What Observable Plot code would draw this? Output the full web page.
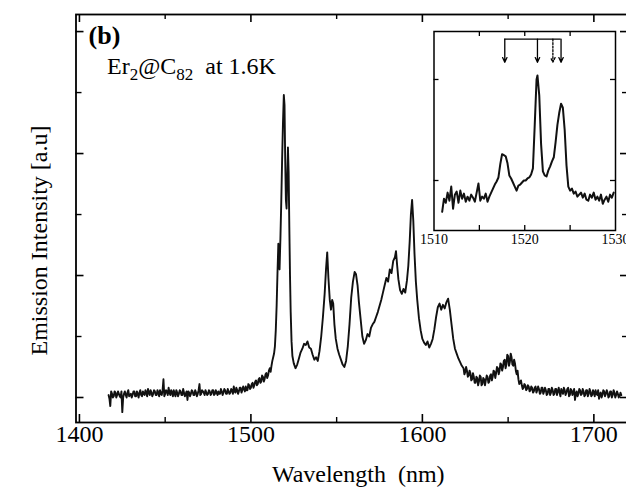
<!DOCTYPE html>
<html><head><meta charset="utf-8">
<script src="https://cdn.jsdelivr.net/npm/d3@7"></script>
<script src="https://cdn.jsdelivr.net/npm/@observablehq/plot@0.6"></script>
<style>
html,body{margin:0;padding:0;background:#fff;}
#wrap{position:relative;width:626px;height:489px;overflow:hidden;background:#fff;}
#main{position:absolute;left:0;top:0;}
#inset{position:absolute;left:420px;top:20px;}
svg text{font-family:'Liberation Serif','Times New Roman',serif;}
</style></head><body>
<div id="wrap"><div id="main"></div><div id="inset"></div></div>
<script>
// ---- main spectrum: [wavelength nm, emission intensity a.u.] ----
const mainSpectrum = [
[1417,0.02],[1418,-0.07],[1419,0.03],[1420,0.01],[1421,0.04],[1422,0.02],[1423,0.03],[1424,0.00],[1425,-0.12],[1426,0.03],
[1427,0.02],[1428,0.04],[1429,0.01],[1430,0.03],[1431,0.02],[1432,0.05],[1433,0.01],[1434,0.03],[1435,0.04],[1436,0.02],
[1437,0.05],[1438,0.02],[1439,0.04],[1440,0.07],[1441,0.02],[1442,0.04],[1443,0.03],[1444,0.05],[1445,0.02],[1446,0.04],
[1447,0.06],[1448,0.02],[1449,0.15],[1450,0.03],[1451,0.05],[1452,0.08],[1453,0.02],[1454,0.04],[1455,0.06],[1456,0.01],
[1457,0.04],[1458,0.03],[1459,0.05],[1460,0.02],[1461,0.04],[1462,0.03],[1463,-0.02],[1464,0.04],[1465,0.03],[1466,0.05],
[1467,0.02],[1468,0.04],[1469,0.03],[1470,0.11],[1471,0.03],[1472,0.05],[1473,0.02],[1474,0.04],[1475,0.03],[1476,0.05],
[1477,0.03],[1478,0.06],[1479,0.03],[1480,0.04],[1481,0.05],[1482,0.03],[1483,0.05],[1484,0.04],[1485,0.06],[1486,0.03],
[1487,0.05],[1488,0.04],[1489,0.06],[1490,0.09],[1491,0.04],[1492,0.06],[1493,0.05],[1494,0.08],[1495,0.06],
[1496,0.07],[1497,0.09],[1498,0.06],[1499,0.10],[1500,0.08],[1501,0.12],[1502,0.10],[1503,0.14],[1504,0.11],[1505,0.16],
[1506,0.13],[1507,0.17],[1508,0.15],[1509,0.20],[1510,0.18],[1511,0.24],[1512,0.26],[1513,0.33],[1514,0.42],[1514.5,0.55],
[1515,0.75],[1515.5,1.02],[1516,1.26],[1516.3,1.08],[1516.7,1.05],[1517.2,1.30],[1517.7,1.60],[1518.2,1.95],[1518.7,2.25],[1519.2,2.48],
[1519.6,2.40],[1520,1.95],[1520.4,1.62],[1520.8,1.55],[1521.2,1.80],[1521.6,2.05],[1522,1.85],[1522.4,1.40],[1522.8,1.00],[1523.2,0.70],
[1523.7,0.46],[1524.2,0.34],[1525,0.28],[1526,0.24],[1527,0.27],[1528,0.32],[1529,0.37],[1530,0.40],[1531,0.44],[1532,0.43],
[1533,0.46],[1534,0.41],[1535,0.40],[1536,0.35],[1537,0.31],[1538,0.33],[1539,0.30],[1540,0.38],[1541,0.50],[1542,0.66],
[1543,0.85],[1543.8,1.05],[1544.5,1.19],[1545.2,0.98],[1546,0.80],[1546.7,0.72],[1547.4,0.80],[1548,0.77],[1548.7,0.60],[1549.5,0.48],
[1550.5,0.40],[1551.5,0.35],[1552.5,0.31],[1553.5,0.27],[1554.5,0.25],[1555.5,0.30],[1556.5,0.42],[1557.5,0.60],[1558.5,0.82],[1559.5,0.95],
[1560.5,1.03],[1561.3,1.01],[1562.2,0.92],[1563,0.78],[1564,0.64],[1565,0.50],[1566,0.44],[1567,0.47],[1568,0.52],[1569,0.50],
[1570,0.57],[1571,0.60],[1572,0.62],[1573,0.66],[1574,0.70],[1575,0.75],[1576,0.80],[1577,0.86],[1578,0.92],[1579,0.98],
[1580,0.95],[1581,1.05],[1582,1.02],[1583,1.12],[1584,1.15],[1584.6,1.20],[1585.3,1.08],[1586,0.97],[1587,0.88],[1588,0.85],
[1589,0.89],[1590,0.86],[1591,0.96],[1591.8,1.08],[1592.6,1.28],[1593.3,1.50],[1594,1.62],[1594.7,1.45],[1595.4,1.18],[1596.2,0.95],
[1597,0.80],[1598,0.65],[1599,0.55],[1600,0.48],[1601,0.45],[1602,0.43],[1603,0.46],[1604,0.41],[1605,0.44],[1606,0.48],
[1607,0.56],[1608,0.66],[1609,0.74],[1610,0.77],[1611,0.72],[1612,0.76],[1613,0.73],[1614,0.78],[1615,0.81],[1616,0.72],
[1617,0.60],[1618,0.48],[1619,0.40],[1620,0.36],[1621,0.32],[1622,0.29],[1623,0.26],[1624,0.24],[1625,0.21],[1626,0.22],
[1627,0.18],[1628,0.20],[1629,0.15],[1630,0.17],[1631,0.12],[1632,0.16],[1633,0.13],[1634,0.17],[1635,0.11],[1636,0.15],
[1637,0.14],[1638,0.17],[1639,0.13],[1640,0.19],[1641,0.17],[1642,0.21],[1643,0.20],[1644,0.24],[1645,0.22],[1646,0.27],
[1647,0.25],[1648,0.31],[1649,0.27],[1650,0.34],[1651,0.29],[1652,0.33],[1653,0.26],[1654,0.28],[1655,0.19],[1656,0.15],
[1657,0.12],[1658,0.10],[1659,0.08],[1660,0.10],[1661,0.07],[1662,0.09],[1663,0.06],[1664,0.08],[1665,0.05],[1666,0.09],
[1667,0.06],[1668,0.07],[1669,0.04],[1670,0.08],[1671,0.05],[1672,0.06],[1673,0.03],[1674,0.07],[1675,0.04],[1676,0.06],
[1677,0.03],[1678,0.07],[1679,0.05],[1680,0.04],[1681,0.07],[1682,0.03],[1683,0.06],[1684,0.04],[1685,0.08],[1686,0.02],
[1687,0.06],[1688,0.04],[1689,-0.02],[1690,0.05],[1691,0.03],[1692,0.06],[1693,0.03],[1694,0.05],[1695,0.02],[1696,0.06],
[1697,0.03],[1698,0.05],[1699,0.02],[1700,0.04],[1701,0.06],[1702,0.02],[1703,-0.01],[1704,0.04],[1705,0.02],[1706,0.05],
[1707,0.03],[1708,0.04],[1709,0.01],[1710,0.05],[1711,0.02],[1712,0.04],[1713,0.02],[1714,0.03],[1715,0.01],[1716,0.02]
];
// extra readings between the points above (noise of the baseline and tails)
const mainSpectrumHalfSteps = [
[1417.5,-0.01],[1418.5,0.05],[1419.5,0.00],[1420.5,0.05],[1421.5,0.00],[1422.5,0.05],[1423.5,0.01],[1424.5,0.05],[1425.5,0.00],[1426.5,0.05],
[1427.5,0.00],[1428.5,0.06],[1429.5,0.02],[1430.5,0.00],[1431.5,0.05],[1432.5,0.01],[1433.5,0.05],[1434.5,0.00],[1435.5,0.06],[1436.5,0.01],
[1437.5,0.03],[1438.5,0.06],[1439.5,0.01],[1440.5,0.04],[1441.5,0.06],[1442.5,0.01],[1443.5,0.06],[1444.5,0.02],[1445.5,0.06],[1446.5,0.01],
[1447.5,0.03],[1448.5,0.06],[1449.5,0.01],[1450.5,0.06],[1451.5,0.02],[1452.5,0.04],[1453.5,0.06],[1454.5,0.01],[1455.5,0.03],[1456.5,0.06],
[1457.5,0.01],[1458.5,0.06],[1459.5,0.02],[1460.5,0.07],[1461.5,0.01],[1462.5,0.05],[1463.5,0.05],[1464.5,0.01],[1465.5,0.06],[1466.5,0.02],
[1467.5,0.06],[1468.5,0.01],[1469.5,0.06],[1470.5,0.02],[1471.5,0.06],[1472.5,0.04],[1473.5,0.06],[1474.5,0.02],[1475.5,0.06],[1476.5,0.02],
[1477.5,0.06],[1478.5,0.02],[1479.5,0.06],[1480.5,0.02],[1481.5,0.03],[1482.5,0.07],[1483.5,0.02],[1484.5,0.07],[1485.5,0.03],[1486.5,0.07],
[1487.5,0.03],[1488.5,0.07],[1489.5,0.03],[1490.5,0.05],[1491.5,0.08],[1492.5,0.03],[1493.5,0.08],[1494.5,0.04],[1495.5,0.09],[1496.5,0.05],
[1497.5,0.06],[1498.5,0.11],[1499.5,0.07],[1500.5,0.11],[1501.5,0.08],[1502.5,0.13],[1503.5,0.10],[1504.5,0.15],[1505.5,0.12],[1506.5,0.18],
[1507.5,0.13],[1508.5,0.19],[1509.5,0.16],[1510.5,0.22],[1511.5,0.21],[1512.5,0.30],[1513.5,0.36],
[1624.5,0.19],[1625.5,0.25],[1626.5,0.17],[1627.5,0.22],[1628.5,0.14],[1629.5,0.20],[1630.5,0.12],[1631.5,0.17],[1632.5,0.10],[1633.5,0.18],
[1634.5,0.10],[1635.5,0.16],[1636.5,0.10],[1637.5,0.18],[1638.5,0.12],[1639.5,0.18],[1640.5,0.14],[1641.5,0.22],[1642.5,0.16],[1643.5,0.25],
[1644.5,0.19],[1645.5,0.28],[1646.5,0.22],[1647.5,0.30],[1648.5,0.24],[1649.5,0.35],[1650.5,0.26],[1651.5,0.36],[1652.5,0.27],[1653.5,0.31],
[1654.5,0.22],[1655.5,0.22],[1656.5,0.11],[1657.5,0.14],[1658.5,0.07],[1659.5,0.11],[1660.5,0.06],[1661.5,0.10],[1662.5,0.05],[1663.5,0.09],
[1664.5,0.04],[1665.5,0.08],[1666.5,0.04],[1667.5,0.09],[1668.5,0.03],[1669.5,0.08],[1670.5,0.03],[1671.5,0.08],[1672.5,0.02],[1673.5,0.07],
[1674.5,0.02],[1675.5,0.08],[1676.5,0.02],[1677.5,0.07],[1678.5,0.02],[1679.5,0.08],[1680.5,0.01],[1681.5,0.05],[1682.5,0.08],[1683.5,0.02],
[1684.5,0.07],[1685.5,0.01],[1686.5,0.07],[1687.5,0.02],[1688.5,0.07],[1689.5,0.03],[1690.5,0.01],[1691.5,0.07],[1692.5,0.02],[1693.5,0.07],
[1694.5,0.01],[1695.5,0.06],[1696.5,0.01],[1697.5,0.07],[1698.5,0.01],[1699.5,0.06],[1700.5,0.01],[1701.5,0.03],[1702.5,0.06],[1703.5,0.03],
[1704.5,0.00],[1705.5,0.06],[1706.5,0.01],[1707.5,0.06],[1708.5,0.00],[1709.5,0.05],[1710.5,0.00],[1711.5,0.06],[1712.5,0.00],[1713.5,0.05],
[1714.5,0.00],[1715.5,0.04]
];

// ---- inset spectrum (1510-1530 nm) ----
const insetSpectrum = [
[1510.9,0.69],[1511.1,0.82],[1511.3,0.78],[1511.5,0.88],[1511.7,0.80],[1511.9,0.94],[1512.1,0.72],[1512.3,0.86],[1512.5,0.89],[1512.7,0.78],
[1512.9,0.90],[1513.1,0.82],[1513.3,0.87],[1513.5,0.79],[1513.7,0.84],[1513.9,0.80],[1514.1,0.86],[1514.3,0.83],[1514.5,0.79],[1514.7,0.88],
[1514.9,0.97],[1515.1,0.80],[1515.3,0.84],[1515.5,0.82],[1515.7,0.87],[1515.9,0.79],[1516.1,0.84],[1516.3,0.88],[1516.5,0.92],[1516.7,0.96],
[1516.9,0.99],[1517.1,1.03],[1517.3,1.16],[1517.5,1.26],[1517.7,1.25],[1517.9,1.24],[1518.1,1.17],[1518.3,1.05],[1518.5,1.02],[1518.7,0.98],
[1518.9,0.94],[1519.1,0.90],[1519.3,0.95],[1519.5,0.96],[1519.7,0.98],[1519.9,1.00],[1520.1,1.00],[1520.3,1.02],[1520.5,1.03],[1520.7,1.06],
[1520.9,1.12],[1521.1,1.55],[1521.3,2.00],[1521.4,2.04],[1521.6,1.84],[1521.8,1.36],[1522.0,1.09],[1522.2,1.05],[1522.4,1.04],[1522.6,1.10],
[1522.8,1.14],[1523.0,1.19],[1523.2,1.23],[1523.4,1.38],[1523.6,1.55],[1523.8,1.67],[1524.0,1.76],[1524.2,1.72],[1524.4,1.50],[1524.6,1.15],
[1524.8,0.94],[1525.0,0.90],[1525.2,0.92],[1525.4,0.87],[1525.6,0.89],[1525.8,0.84],[1526.0,0.86],[1526.2,0.88],[1526.4,0.83],[1526.6,0.87],
[1526.8,0.81],[1527.0,0.80],[1527.2,0.86],[1527.4,0.83],[1527.6,0.88],[1527.8,0.81],[1528.0,0.84],[1528.2,0.80],[1528.4,0.86],[1528.6,0.77],
[1528.8,0.81],[1529.0,0.84],[1529.2,0.79],[1529.4,0.86],[1529.6,0.83],[1529.8,0.88]
];

// ---- ticks / labels ----
const xTickLabels = [1400, 1500, 1600, 1700];
const xMinorTicks = [1450, 1550, 1650];
const yMajorTicks = [0, 1, 2, 3];
const yMinorTicks = [0.5, 1.5, 2.5];
const insetTickLabels = [1510, 1520, 1530];
const insetXTicks = [1515, 1520, 1525];
const insetYTicks = [1, 2];
// inset arrows (transition markers)
const arrowWavelengths = [1517.8, 1521.4, 1523.1, 1524.0];
const arrowDotted = [false, false, true, false];
const arrowTop = 2.40, arrowTip = 2.17;

const xLabel = "Wavelength  (nm)";
const yLabel = "Emission Intensity [a.u]";
const panelLabel = "(b)";
const sampleLabel = "Er2@C82  at 1.6K";

const mainData = [...mainSpectrum, ...mainSpectrumHalfSteps]
  .map(([w, v]) => ({w, v}))
  .sort((a, b) => a.w - b.w);
const insetData = insetSpectrum.map(([w, v]) => ({w, v}));
const arrows = arrowWavelengths.map((w, i) => ({w, dotted: arrowDotted[i]}));

const W = 626, H = 489, mL = 75.5, mR = -2, mT = 14, mB = 67;
const fw = W - mL - mR, fh = H - mT - mB;
const font = "Liberation Serif";
const svgStyle = "font-family:'Liberation Serif',serif;font-size:24px;color:#000;background:transparent;overflow:visible;";

const main = Plot.plot({
  width: W, height: H,
  marginLeft: mL, marginRight: mR, marginTop: mT, marginBottom: mB,
  style: svgStyle,
  x: {domain: [1398, 1720.2], axis: null},
  y: {domain: [-0.205, 3.14], axis: null},
  marks: [
    Plot.line(mainData, {x: "w", y: "v", stroke: "#111", strokeWidth: 1.9}),
    Plot.frame({stroke: "#000", strokeWidth: 1.8}),
    Plot.tickX(xTickLabels, {x: d => d, insetTop: fh - 8, strokeWidth: 1.6}),
    Plot.tickX(xMinorTicks, {x: d => d, insetTop: fh - 5, strokeWidth: 1.4}),
    Plot.tickX(xTickLabels, {x: d => d, insetBottom: fh - 8, strokeWidth: 1.6}),
    Plot.tickX(xMinorTicks, {x: d => d, insetBottom: fh - 5, strokeWidth: 1.4}),
    Plot.tickY(yMajorTicks, {y: d => d, insetRight: fw - 8, strokeWidth: 1.6}),
    Plot.tickY(yMinorTicks, {y: d => d, insetRight: fw - 6, strokeWidth: 1.4}),
    Plot.tickY(yMajorTicks, {y: d => d, insetLeft: fw - 8, strokeWidth: 1.6}),
    Plot.tickY(yMinorTicks, {y: d => d, insetLeft: fw - 6, strokeWidth: 1.4}),
    Plot.text(xTickLabels, {x: d => d, text: d => String(d), frameAnchor: "bottom", textAnchor: "middle", lineAnchor: "top", dy: 2, fontSize: 24, fontFamily: font}),
    Plot.text([xLabel], {text: d => d, frameAnchor: "bottom", textAnchor: "middle", lineAnchor: "middle", dx: 6, dy: 52, fontSize: 24, fontFamily: font}),
    Plot.text([yLabel], {text: d => d, frameAnchor: "left", textAnchor: "middle", lineAnchor: "middle", rotate: -90, dx: -37, dy: 22, fontSize: 24, fontFamily: font}),
    Plot.text([panelLabel], {text: d => d, frameAnchor: "top-left", textAnchor: "middle", lineAnchor: "middle", dx: 28.5, dy: 21, fontSize: 26, fontWeight: "bold", fontFamily: font}),
    Plot.text([sampleLabel], {text: d => d, frameAnchor: "top-left", textAnchor: "start", lineAnchor: "middle", dx: 31, dy: 52.3, fontSize: 24, fontFamily: font})
  ]
});
document.getElementById("main").appendChild(main);

// subscripts for Er2@C82
const NS = "http://www.w3.org/2000/svg";
const st = Array.from(main.querySelectorAll("text")).find(t => t.textContent === sampleLabel);
if (st) {
  while (st.firstChild) st.removeChild(st.firstChild);
  const parts = [["Er", 0, null], ["2", 6, 17], ["@C", -6, null], ["82", 6, 17], ["\u00a0\u00a0at 1.6K", -6, null]];
  for (const [t, dy, fs] of parts) {
    const ts = document.createElementNS(NS, "tspan");
    ts.textContent = t;
    if (dy) ts.setAttribute("dy", dy);
    if (fs) ts.setAttribute("font-size", fs);
    st.appendChild(ts);
  }
}

// ---- inset ----
const iW = 206, iH = 236, iL = 13.5, iR = 11, iT = 11, iB = 26;
const ifw = iW - iL - iR, ifh = iH - iT - iB;
const inset = Plot.plot({
  width: iW, height: iH,
  marginLeft: iL, marginRight: iR, marginTop: iT, marginBottom: iB,
  style: "font-family:'Liberation Serif',serif;font-size:14px;color:#000;background:transparent;overflow:visible;",
  x: {domain: [1510, 1530], axis: null},
  y: {domain: [0.505, 2.475], axis: null},
  marks: [
    Plot.line(insetData, {x: "w", y: "v", stroke: "#111", strokeWidth: 2}),
    Plot.frame({stroke: "#000", strokeWidth: 1.5}),
    Plot.tickX(insetXTicks, {x: d => d, insetTop: ifh - 5, strokeWidth: 1.3}),
    Plot.tickX(insetXTicks, {x: d => d, insetBottom: ifh - 5, strokeWidth: 1.3}),
    Plot.tickY(insetYTicks, {y: d => d, insetRight: ifw - 5, strokeWidth: 1.3}),
    Plot.tickY(insetYTicks, {y: d => d, insetLeft: ifw - 5, strokeWidth: 1.3}),
    Plot.text(insetTickLabels, {x: d => d, text: d => String(d), frameAnchor: "bottom", textAnchor: "middle", lineAnchor: "top", dy: 4, fontSize: 14, fontFamily: font}),
    Plot.ruleY([arrowTop], {x1: arrowWavelengths[0], x2: arrowWavelengths[arrowWavelengths.length - 1], stroke: "#000", strokeWidth: 1.3}),
    Plot.arrow(arrows.filter(d => !d.dotted), {x1: "w", x2: "w", y1: () => arrowTop, y2: () => arrowTip, stroke: "#000", strokeWidth: 1.3, headLength: 6, headAngle: 50}),
    Plot.arrow(arrows.filter(d => d.dotted), {x1: "w", x2: "w", y1: () => arrowTop, y2: () => arrowTip, stroke: "#000", strokeWidth: 1.3, headLength: 6, headAngle: 50, strokeDasharray: "2,1.5"})
  ]
});
document.getElementById("inset").appendChild(inset);
</script>
</body></html>
